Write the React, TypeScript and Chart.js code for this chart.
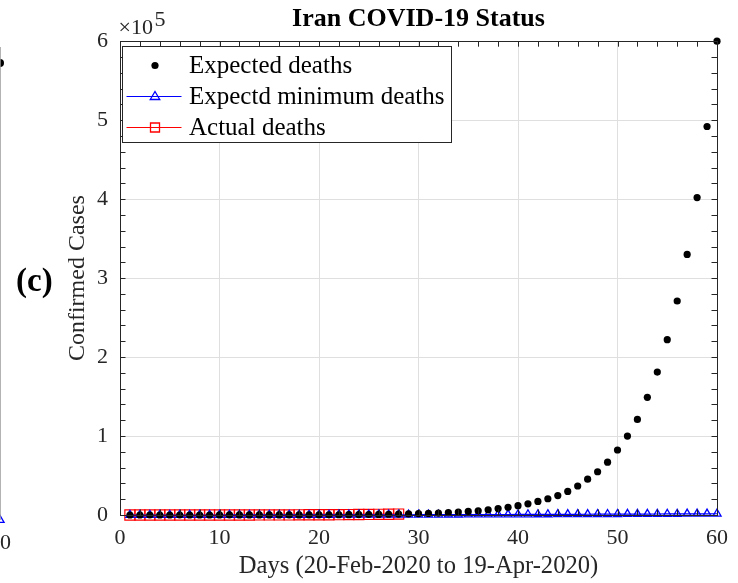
import React, { useEffect, useRef } from "react";
import { Chart, registerables } from "chart.js";

Chart.register(...registerables);

const FONT = '"Liberation Serif", "Times New Roman", Times, serif';

// ---------- data ----------
const days = [
  1, 2, 3, 4, 5, 6, 7, 8, 9, 10, 11, 12, 13, 14, 15, 16, 17, 18, 19, 20,
  21, 22, 23, 24, 25, 26, 27, 28, 29, 30, 31, 32, 33, 34, 35, 36, 37, 38, 39, 40,
  41, 42, 43, 44, 45, 46, 47, 48, 49, 50, 51, 52, 53, 54, 55, 56, 57, 58, 59, 60,
];

const expectedDeaths = [
  5, 6, 8, 10, 12, 14, 17, 21, 26, 32,
  39, 47, 57, 70, 85, 104, 127, 155, 189, 230,
  281, 343, 418, 510, 622, 759, 926, 1130, 1380, 1680,
  2050, 2500, 3050, 3720, 4500, 5400, 6600, 8100, 9800, 11800,
  14200, 17200, 20600, 24600, 29800, 36700, 45400, 54800, 66900, 82300,
  100000, 121000, 149000, 181000, 222000, 271000, 330000, 402000, 492000, 600000,
];

const minimumDeaths = [
  3, 4, 6, 8, 10, 13, 16, 20, 24, 29,
  35, 42, 50, 59, 69, 80, 92, 105, 120, 136,
  153, 171, 190, 210, 231, 253, 276, 300, 325, 351,
  378, 406, 435, 465, 496, 528, 561, 595, 630, 666,
  703, 741, 780, 820, 861, 903, 946, 990, 1035, 1081,
  1128, 1176, 1225, 1275, 1326, 1378, 1431, 1485, 1540, 1596,
];

const actualDays = [
  1, 2, 3, 4, 5, 6, 7, 8, 9, 10, 11, 12, 13, 14,
  15, 16, 17, 18, 19, 20, 21, 22, 23, 24, 25, 26, 27, 28,
];
const actualDeaths = [
  2, 4, 5, 8, 12, 16, 19, 26, 34, 43, 54, 66, 77, 92,
  107, 124, 145, 194, 237, 291, 354, 429, 514, 611, 724, 853, 988, 1135,
];

const seriesLabels = ["Expected deaths", "Expectd minimum deaths", "Actual deaths"];
const chartTitle = "Iran COVID-19 Status";
const xTitle = "Days (20-Feb-2020 to 19-Apr-2020)";
const yTitle = "Confirmed Cases";
const panelLabel = "(c)";

const xTicks = [0, 10, 20, 30, 40, 50, 60];
const yTicks = [0, 1, 2, 3, 4, 5, 6]; // x 10^5
const yExponent = 5;
const xMinorStep = 2;
const yMinorStep = 0.2; // x 10^5

// fragment of the neighbouring panel (b), only its right edge is visible
const panelBDays = [60];
const panelBExpected = [0.954];
const panelBMinimum = [0];
const panelBTicks = [0, 10, 20, 30, 40, 50, 60];

const AXIS_COLOR = "#262626";
const scale = Math.pow(10, yExponent);

const toPoints = (xs: number[], ys: number[]) => xs.map((x, i) => ({ x, y: ys[i] }));

const framePlugin = {
  id: "matlabFrame",
  afterDatasetsDraw(chart: any) {
    const { ctx, chartArea: a, scales } = chart;
    const xs = scales.x;
    const ys = scales.y;
    const L = 5.5;
    ctx.save();
    ctx.strokeStyle = AXIS_COLOR;
    ctx.lineWidth = 1;
    ctx.beginPath();
    const xMin = xTicks[0];
    const xMax = xTicks[xTicks.length - 1];
    for (let v = xMin; v <= xMax + 1e-9; v += xMinorStep) {
      const px = Math.round(xs.getPixelForValue(v)) + 0.5;
      ctx.moveTo(px, a.bottom);
      ctx.lineTo(px, a.bottom - L);
      ctx.moveTo(px, a.top);
      ctx.lineTo(px, a.top + L);
    }
    const yMin = yTicks[0];
    const yMax = yTicks[yTicks.length - 1];
    for (let v = yMin; v <= yMax + 1e-9; v += yMinorStep) {
      const py = Math.round(ys.getPixelForValue(v * scale)) + 0.5;
      ctx.moveTo(a.left, py);
      ctx.lineTo(a.left + L, py);
      ctx.moveTo(a.right, py);
      ctx.lineTo(a.right - L, py);
    }
    ctx.stroke();
    ctx.strokeRect(
      Math.round(a.left) + 0.5,
      Math.round(a.top) + 0.5,
      Math.round(a.right) - Math.round(a.left),
      Math.round(a.bottom) - Math.round(a.top)
    );
    ctx.restore();
  },
};

function drawMarker(ctx: CanvasRenderingContext2D, style: string, x: number, y: number, color: string, r: number) {
  ctx.save();
  ctx.strokeStyle = color;
  ctx.fillStyle = color;
  ctx.lineWidth = 1.3;
  ctx.beginPath();
  if (style === "circle") {
    ctx.arc(x, y, r, 0, Math.PI * 2);
    ctx.fill();
  } else if (style === "triangle") {
    ctx.moveTo(x, y - r);
    ctx.lineTo(x + r * 0.95, y + r * 0.6);
    ctx.lineTo(x - r * 0.95, y + r * 0.6);
    ctx.closePath();
    ctx.stroke();
  } else {
    ctx.rect(x - r, y - r, 2 * r, 2 * r);
    ctx.stroke();
  }
  ctx.restore();
}

const legendPlugin = {
  id: "boxedLegend",
  afterDraw(chart: any) {
    const { ctx, chartArea: a } = chart;
    const ds = chart.data.datasets;
    ctx.save();
    ctx.font = `25px ${FONT}`;
    const widths = ds.map((d: any) => ctx.measureText(d.label).width);
    const left = Math.round(a.left) + 2.5;
    const top = Math.round(a.top) + 5.5;
    const textX = left + 66.5;
    const w = Math.round(textX - left + Math.max(...widths) + 7);
    const rowH = 31;
    const h = 96;
    ctx.fillStyle = "#ffffff";
    ctx.fillRect(left, top, w, h);
    ctx.strokeStyle = AXIS_COLOR;
    ctx.lineWidth = 1;
    ctx.strokeRect(left, top, w, h);
    ds.forEach((d: any, i: number) => {
      const cy = top + 19 + i * rowH;
      const mx = left + 32.5;
      if (d.showLine !== false) {
        ctx.beginPath();
        ctx.strokeStyle = d.borderColor;
        ctx.lineWidth = 1.2;
        ctx.moveTo(left + 4, cy);
        ctx.lineTo(left + 59, cy);
        ctx.stroke();
      }
      const style = d.pointStyle;
      const r = style === "circle" ? 3.6 : style === "triangle" ? 5 : 4.5;
      drawMarker(ctx, style, mx, cy, d.pointBorderColor, r);
      ctx.fillStyle = "#000";
      ctx.textBaseline = "middle";
      ctx.textAlign = "left";
      ctx.fillText(d.label, textX, cy + 1);
    });
    ctx.restore();
  },
};

const edgePlugin = {
  id: "rightEdge",
  afterDatasetsDraw(chart: any) {
    const { ctx, chartArea: a } = chart;
    ctx.save();
    ctx.strokeStyle = "#9a9a9a";
    ctx.lineWidth = 1.5;
    ctx.beginPath();
    ctx.moveTo(a.right, a.top + 6);
    ctx.lineTo(a.right, a.bottom);
    ctx.stroke();
    ctx.restore();
  },
};

export default function App() {
  const mainRef = useRef<HTMLCanvasElement | null>(null);
  const sideRef = useRef<HTMLCanvasElement | null>(null);

  useEffect(() => {
    if (!mainRef.current || !sideRef.current) return;

    const main = new Chart(mainRef.current, {
      type: "line",
      data: {
        datasets: [
          {
            label: seriesLabels[0],
            data: toPoints(days, expectedDeaths),
            showLine: false,
            pointStyle: "circle",
            pointRadius: 3.6,
            pointBackgroundColor: "#000000",
            pointBorderColor: "#000000",
            pointBorderWidth: 0,
            borderColor: "#000000",
            clip: false as any,
          },
          {
            label: seriesLabels[1],
            data: toPoints(days, minimumDeaths),
            showLine: true,
            borderColor: "#0000ff",
            borderWidth: 1.2,
            pointStyle: "triangle",
            pointRadius: 4.7,
            pointBorderColor: "#0000ff",
            pointBackgroundColor: "rgba(0,0,0,0)",
            pointBorderWidth: 1.3,
            tension: 0,
            clip: false as any,
          },
          {
            label: seriesLabels[2],
            data: toPoints(actualDays, actualDeaths),
            showLine: true,
            borderColor: "#ff0000",
            borderWidth: 1.2,
            pointStyle: "rect",
            pointRadius: 7.2,
            pointBorderColor: "#ff0000",
            pointBackgroundColor: "rgba(0,0,0,0)",
            pointBorderWidth: 1.2,
            tension: 0,
            clip: false as any,
          },
        ],
      },
      options: {
        animation: false,
        responsive: false,
        maintainAspectRatio: false,
        events: [],
        layout: { padding: { left: 0, right: 16, top: 0, bottom: 0 } },
        plugins: {
          legend: { display: false },
          tooltip: { enabled: false },
          title: {
            display: true,
            text: chartTitle,
            fullSize: false,
            color: "#000000",
            font: { family: FONT, size: 26, weight: "bold" },
            padding: { top: 4, bottom: 6 },
          },
        },
        scales: {
          x: {
            type: "linear",
            min: xTicks[0],
            max: xTicks[xTicks.length - 1],
            afterBuildTicks: (s: any) => {
              s.ticks = xTicks.map((v) => ({ value: v }));
            },
            afterFit: (s: any) => {
              s.height = 68;
            },
            ticks: {
              color: AXIS_COLOR,
              font: { family: FONT, size: 22 },
              padding: 10,
              maxRotation: 0,
              autoSkip: false,
            },
            grid: { color: "#dfdfdf", lineWidth: 1, drawTicks: false },
            border: { display: false },
            title: {
              display: true,
              text: xTitle,
              color: AXIS_COLOR,
              font: { family: FONT, size: 24.6 },
              padding: { top: 0, bottom: 2.2 },
            },
          },
          y: {
            type: "linear",
            min: yTicks[0] * scale,
            max: yTicks[yTicks.length - 1] * scale,
            afterBuildTicks: (s: any) => {
              s.ticks = yTicks.map((v) => ({ value: v * scale }));
            },
            afterFit: (s: any) => {
              s.width = 120;
            },
            ticks: {
              color: AXIS_COLOR,
              font: { family: FONT, size: 22 },
              padding: 12,
              autoSkip: false,
              callback: (v: any) => String(Math.round(Number(v) / scale)),
            },
            grid: { color: "#dfdfdf", lineWidth: 1, drawTicks: false },
            border: { display: false },
            title: {
              display: true,
              text: yTitle,
              color: AXIS_COLOR,
              font: { family: FONT, size: 24 },
              padding: { top: 63, bottom: 0 },
            },
          },
        },
      },
      plugins: [framePlugin, legendPlugin],
    } as any);

    const side = new Chart(sideRef.current, {
      type: "line",
      data: {
        datasets: [
          {
            label: seriesLabels[0],
            data: toPoints(panelBDays, panelBExpected),
            showLine: false,
            pointStyle: "circle",
            pointRadius: 4,
            pointBackgroundColor: "#000000",
            pointBorderColor: "#000000",
            pointBorderWidth: 0,
            clip: false as any,
          },
          {
            label: seriesLabels[1],
            data: toPoints(panelBDays, panelBMinimum),
            showLine: false,
            pointStyle: "triangle",
            pointRadius: 4.7,
            pointBorderColor: "#0000ff",
            pointBackgroundColor: "rgba(0,0,0,0)",
            pointBorderWidth: 1.3,
            clip: false as any,
          },
        ],
      },
      options: {
        animation: false,
        responsive: false,
        maintainAspectRatio: false,
        events: [],
        layout: { padding: { left: 0, right: 20, top: 41, bottom: 0 } },
        plugins: { legend: { display: false }, tooltip: { enabled: false }, title: { display: false } },
        scales: {
          x: {
            type: "linear",
            min: panelBTicks[0],
            max: panelBTicks[panelBTicks.length - 1],
            afterBuildTicks: (s: any) => {
              s.ticks = panelBTicks.map((v) => ({ value: v }));
            },
            afterFit: (s: any) => {
              s.height = 63;
            },
            ticks: {
              color: AXIS_COLOR,
              font: { family: FONT, size: 22 },
              padding: 10,
              maxRotation: 0,
              autoSkip: false,
            },
            grid: { display: false, drawTicks: false },
            border: { display: false },
          },
          y: { type: "linear", min: 0, max: 1, display: false },
        },
      },
      plugins: [edgePlugin],
    } as any);

    return () => {
      main.destroy();
      side.destroy();
    };
  }, []);

  return (
    <div
      style={{
        position: "fixed",
        left: 0,
        top: 0,
        width: 738,
        height: 583,
        overflow: "hidden",
        background: "#ffffff",
      }}
    >
      <canvas
        ref={sideRef}
        width={221}
        height={583}
        style={{ position: "absolute", left: -200, top: 0, width: 221, height: 583 }}
      />
      <canvas
        ref={mainRef}
        width={738}
        height={583}
        style={{ position: "absolute", left: 0, top: 0, width: 738, height: 583 }}
      />
      <div
        style={{
          position: "absolute",
          left: 118.5,
          top: 16,
          fontFamily: FONT,
          fontSize: 22,
          lineHeight: "22px",
          color: AXIS_COLOR,
          whiteSpace: "nowrap",
        }}
      >
        ×10
      </div>
      <div
        style={{
          position: "absolute",
          left: 154.5,
          top: 8.3,
          fontFamily: FONT,
          fontSize: 22,
          lineHeight: "22px",
          color: AXIS_COLOR,
        }}
      >
        {yExponent}
      </div>
      <div
        style={{
          position: "absolute",
          left: 16,
          top: 264,
          fontFamily: FONT,
          fontSize: 33,
          lineHeight: "33px",
          fontWeight: "bold",
          color: "#000000",
        }}
      >
        {panelLabel}
      </div>
    </div>
  );
}
